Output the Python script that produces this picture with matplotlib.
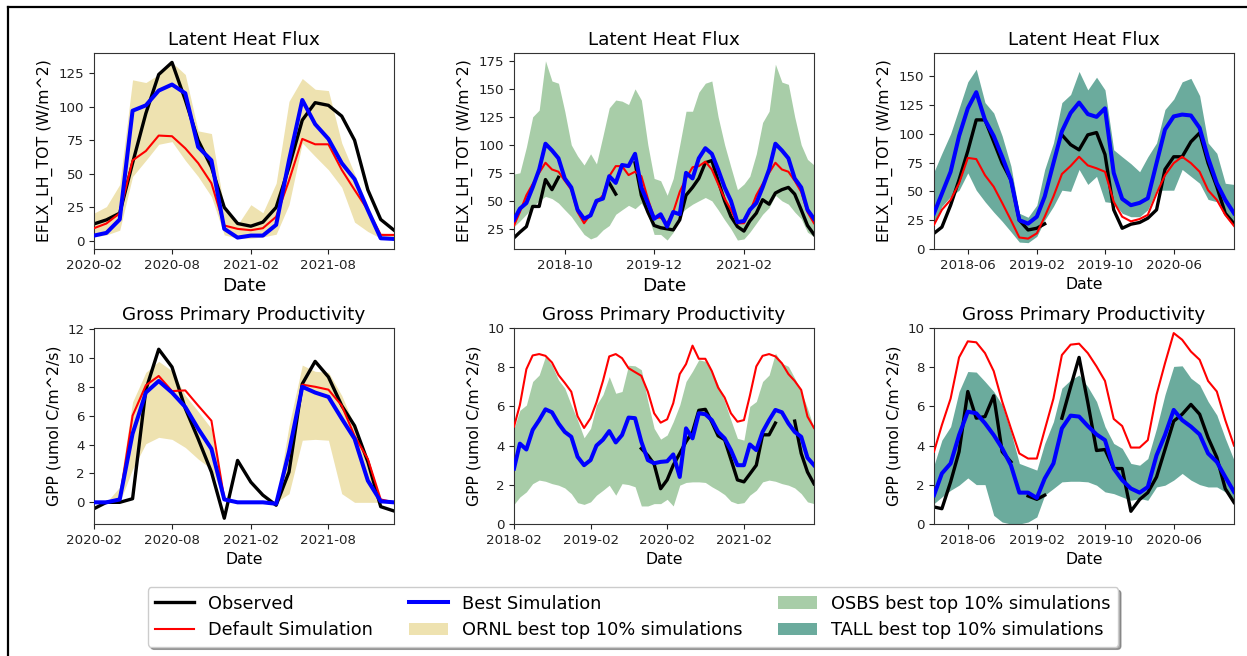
import numpy as np
import pandas as pd
import matplotlib
matplotlib.use("Agg")
import matplotlib.pyplot as plt
from matplotlib.lines import Line2D
from matplotlib.patches import Patch
import matplotlib.dates as mdates

nan = np.nan

# ---- monthly time axes for the three sites ----
dates_ornl = pd.date_range("2020-02-01", periods=24, freq="MS")
dates_osbs = pd.date_range("2018-02-01", periods=48, freq="MS")
dates_tall = pd.date_range("2018-02-01", periods=36, freq="MS")

# ---- ORNL latent heat flux (W/m^2) ----
ornl_lh_obs = [12.7, 15.7, 20.7, 58, 95, 124, 133, 105, 75, 55, 25, 13,
               11, 14, 25, 55, 90, 103, 101, 93, 75, 38, 16, 8]
ornl_lh_def = [9.5, 13, 20.7, 60, 67, 78.5, 78, 69, 58, 43, 11.5, 9,
               8, 9.5, 18, 45, 76, 72, 72, 53, 38, 23, 4.5, 4.5]
ornl_lh_best = [4, 6, 16, 97, 101, 112, 116.5, 110, 70, 60, 9, 2.5,
                4, 4, 12, 60, 105, 87, 76, 58, 46, 23, 2, 1.5]
ornl_lh_upper = [20.7, 25.6, 42, 120, 118, 124, 133, 124, 82, 80, 24, 12,
                 27, 21, 43, 104, 121, 113, 112, 73, 50, 26, 6, 4.5]
ornl_lh_lower = [3, 4.5, 8, 48, 60, 72, 74, 60, 48, 33, 4.5, 2,
                 2, 3, 5, 27, 73, 63, 53, 40, 14, 7, 2, 2]

# ---- OSBS latent heat flux (W/m^2) ----
osbs_lh_obs = [17, 22, 27, 45, 45, 69, 60, 71, nan, nan, nan, nan,
               nan, nan, nan, 66, 56, nan, nan, 84, 55, 40, 28, 26,
               25, 24, 33, 55, 62, 70, 84, 86, 68, 50, 36, 27,
               23, 32, 39, 51, 47, 57, 60, 62, 56, 42, 28, 20]
osbs_lh_def = [28, 40, 55, 65, 75, 84, 78, 76, 68, 60, 40, 30,
               38, 48, 55, 72, 81, 81, 73, 76, 72, 52, 35, 35,
               30, 40, 58, 70, 80, 81, 85, 78, 65, 52, 42, 30,
               30, 40, 55, 65, 75, 84, 78, 76, 68, 58, 40, 30]
osbs_lh_best = [33, 43, 48, 62, 78, 101, 95, 88, 70, 62, 42, 34,
                37, 50, 52, 72, 66, 82, 81, 92, 62, 48, 34, 38,
                27, 40, 38, 75, 70, 88, 97, 92, 78, 62, 50, 31,
                32, 42, 48, 62, 78, 101, 95, 88, 70, 62, 42, 34]
osbs_lh_upper = [74, 75, 98, 125, 131, 175, 157, 155, 130, 100, 90, 82,
                 92, 83, 108, 133, 140, 139, 136, 150, 140, 100, 70, 68,
                 55, 70, 100, 130, 130, 147, 155, 157, 125, 100, 80, 60,
                 65, 72, 92, 120, 130, 172, 156, 154, 125, 100, 87, 82]
osbs_lh_lower = [27, 32, 38, 45, 50, 54, 52, 48, 42, 36, 28, 20,
                 16, 18, 24, 28, 38, 42, 46, 43, 48, 38, 20, 20,
                 15, 22, 38, 43, 47, 50, 53, 50, 42, 33, 25, 15,
                 16, 22, 30, 38, 44, 55, 50, 47, 40, 34, 22, 18]

# ---- TALL latent heat flux (W/m^2) ----
tall_lh_obs = [13.6, 19, 38, 60, 85, 112, 112, 93, 74.5, 60, 25, 16.5,
               18, 21.8, nan, 99, 90.5, 86, 99, 101, 82, 34, 18, 21.5,
               23, 26.7, 34, 69, 80, 80, 93, 100.7, 74.5, 54, 31, 22]
tall_lh_def = [21, 34, 42.6, 57, 79, 78, 64, 54, 40, 25, 10, 9,
               13.6, 28, 45.5, 65, 72, 80, 72.5, 70, 67, 41, 28, 24,
               26, 29.6, 48, 64, 74.5, 80, 74.5, 67, 51, 42.6, 29.6, 20]
tall_lh_best = [31, 48, 67, 98, 122, 136, 112, 98, 80, 60, 25, 22,
                28, 45.5, 74.5, 102, 118, 127, 117, 114.6, 122, 66, 43.5, 38,
                40, 44, 74.5, 103.6, 115, 116.6, 115.8, 105, 79, 57, 42.6, 31]
tall_lh_upper = [67, 83, 100, 122, 145, 156, 127, 118, 98, 72, 31, 27.5,
                 38, 69, 92, 127, 134, 154, 138, 149, 138, 86, 80, 74,
                 67, 80, 92, 121, 130, 145, 148, 133, 92, 83, 57, 56]
tall_lh_lower = [22, 37, 45.5, 51, 66, 51, 41, 32, 24, 15, 6, 5.5,
                 11, 25, 37, 51, 50, 69, 56, 63, 41, 40, 31, 28,
                 28, 34, 51, 51, 51, 69, 63, 57, 43, 41, 31, 24]

# ---- ORNL gross primary productivity (umol C/m^2/s) ----
ornl_gpp_obs = [-0.44, 0, 0, 0.25, 7.8, 10.6, 9.37, 6.5, 4.4, 2.1, -1.1, 2.9,
                1.4, 0.5, -0.2, 2.1, 8.2, 9.76, 8.68, 6.7, 5.3, 2.8, -0.3, -0.6]
ornl_gpp_def = [0, 0, 0.2, 6.0, 8.1, 8.75, 7.7, 7.75, 6.7, 5.65, 0.25, 0,
                0, 0, -0.1, 3.3, 8.15, 8.0, 7.8, 6.7, 4.6, 3.0, 0.2, 0]
ornl_gpp_best = [0, 0, 0.2, 4.75, 7.6, 8.4, 7.6, 6.6, 5.1, 3.7, 0.2, 0,
                 0, 0, -0.1, 3.5, 8.0, 7.6, 7.3, 5.8, 4.4, 1.5, 0.07, 0]
ornl_gpp_upper = [0, 0, 1.06, 6.95, 9.0, 9.76, 9.1, 7.4, 6.3, 5.1, 0.2, 0,
                  0, 0, 0, 5.3, 9.5, 9.07, 9.0, 7.4, 5.3, 2.3, 0.14, 0]
ornl_gpp_lower = [0, 0, 0, 2.3, 4.06, 4.5, 4.36, 3.8, 3.0, 2.3, 0.2, 0,
                  0, 0, 0, 0.6, 4.3, 4.36, 4.3, 0.6, 0, 0, 0, 0]

# ---- OSBS gross primary productivity (umol C/m^2/s) ----
osbs_gpp_obs = [nan] * 20 + [3.85, 3.5, 3.05, 1.8,
                             2.25, 3.0, 3.6, 4.2, 4.7, 5.8, 5.85, 5.2, 4.5, 4.3, 3.3, 2.25,
                             2.15, 2.55, 3.0, 4.55, 4.55, 5.15, nan, nan, 5.25, 3.6, 2.65, 2.05]
osbs_gpp_def = [4.97, 6.07, 7.9, 8.6, 8.67, 8.58, 8.24, 7.6, 7.2, 6.75, 5.5, 4.9,
                5.4, 6.2, 7.3, 8.55, 8.67, 8.46, 7.95, 7.75, 7.56, 6.75, 5.65, 5.17,
                5.34, 6.16, 7.65, 8.16, 9.1, 8.43, 8.43, 7.8, 6.96, 6.45, 5.65, 5.22,
                5.3, 6.53, 8.04, 8.58, 8.67, 8.55, 8.2, 7.65, 7.3, 6.84, 5.48, 4.9]
osbs_gpp_best = [2.83, 4.1, 3.8, 4.8, 5.3, 5.85, 5.7, 5.13, 4.7, 4.45, 3.43, 3.0,
                 3.26, 4.0, 4.3, 4.74, 4.16, 4.54, 5.43, 5.4, 4.2, 3.26, 3.1, 3.17,
                 3.2, 3.55, 2.4, 4.88, 4.37, 5.65, 5.6, 5.3, 4.7, 4.37, 3.77, 3.0,
                 3.0, 4.06, 3.77, 4.7, 5.3, 5.82, 5.7, 5.13, 4.7, 4.45, 3.38, 3.0]
osbs_gpp_upper = [4.88, 5.8, 6.07, 7.27, 7.6, 8.55, 8.1, 7.35, 6.93, 6.07, 5.3, 4.4,
                  4.88, 6.07, 6.6, 7.52, 6.67, 6.76, 8.1, 8.07, 7.87, 6.25, 4.88, 4.33,
                  4.54, 5.22, 6.07, 7.27, 7.8, 8.38, 8.3, 7.8, 7.1, 6.25, 5.3, 4.37,
                  4.28, 6.0, 6.25, 7.27, 7.6, 8.72, 8.2, 8.04, 7.44, 6.76, 5.9, 4.88]
osbs_gpp_lower = [1.0, 1.38, 1.64, 2.06, 2.24, 2.18, 2.06, 1.98, 1.84, 1.55, 1.09, 1.0,
                  1.13, 1.47, 1.72, 1.98, 1.47, 2.06, 2.01, 1.9, 0.92, 0.92, 1.04, 1.04,
                  1.26, 0.92, 1.98, 2.12, 2.15, 2.15, 2.12, 1.9, 1.72, 1.5, 1.16, 1.04,
                  1.09, 1.47, 1.72, 2.15, 2.24, 2.18, 2.06, 1.98, 1.84, 1.55, 1.13, 1.04]

# ---- TALL gross primary productivity (umol C/m^2/s) ----
tall_gpp_obs = [0.87, 0.78, 2.15, 3.69, 6.76, 5.4, 5.48, 6.54, 3.69, 3.17, nan, 1.43,
                1.26, 1.47, nan, 5.4, 7.0, 8.5, 6.2, 3.75, 3.8, 2.83, 2.83, 0.65,
                1.25, 1.6, 2.4, 3.8, 5.25, 5.6, 6.1, 5.6, 4.4, 3.4, 1.8, 1.1]
tall_gpp_def = [3.69, 5.05, 6.4, 8.5, 9.32, 9.27, 8.72, 7.8, 6.25, 4.88, 3.6, 3.34,
                3.34, 4.8, 6.4, 8.62, 9.15, 9.2, 8.72, 8.04, 7.3, 5.36, 5.0, 3.9,
                3.9, 4.28, 6.6, 8.2, 9.74, 9.4, 8.8, 8.38, 7.3, 6.76, 5.3, 4.0]
tall_gpp_best = [1.47, 2.58, 3.09, 4.54, 5.73, 5.65, 5.14, 4.54, 3.86, 3.0, 1.6, 1.6,
                 1.33, 2.32, 3.09, 4.88, 5.53, 5.48, 5.0, 4.57, 4.28, 2.83, 2.24, 1.81,
                 1.6, 1.89, 3.5, 4.54, 5.82, 5.3, 4.97, 4.57, 3.6, 3.17, 2.4, 1.64]
tall_gpp_upper = [3.0, 4.28, 4.97, 6.76, 7.78, 7.75, 7.27, 6.76, 6.07, 4.7, 3.09, 2.92,
                  2.75, 4.11, 5.22, 6.93, 7.35, 7.6, 7.0, 6.25, 4.97, 4.11, 3.86, 3.09,
                  3.0, 3.34, 4.88, 6.6, 8.04, 8.07, 7.44, 7.1, 6.25, 5.56, 4.37, 3.26]
tall_gpp_lower = [1.04, 1.38, 1.72, 1.98, 2.35, 2.01, 2.01, 0.44, 0.1, 0, 0, 0.1,
                  0.36, 1.47, 1.81, 2.15, 2.18, 2.18, 2.15, 1.98, 1.64, 1.55, 1.38, 1.21,
                  1.3, 1.21, 1.89, 1.98, 2.24, 2.58, 2.24, 2.01, 1.89, 1.89, 1.64, 1.21]

# ---- tick labels ----
ornl_xticks = ["2020-02", "2020-08", "2021-02", "2021-08"]
osbs_lh_xticks = ["2018-10", "2019-12", "2021-02"]
osbs_gpp_xticks = ["2018-02", "2019-02", "2020-02", "2021-02"]
tall_xticks = ["2018-06", "2019-02", "2019-10", "2020-06"]

# ---- legend text ----
legend_labels = ["Observed", "Default Simulation", "Best Simulation",
                 "ORNL best top 10% simulations", "OSBS best top 10% simulations",
                 "TALL best top 10% simulations"]

C_ORNL = "#EEE2B0"
C_OSBS = "#A8CDA8"
C_TALL = "#6BAB9D"

W, H = 1247, 656
fig = plt.figure(figsize=(W / 100, H / 100), dpi=100)

LH_LABEL = "EFLX_LH_TOT (W/m^2)"
GPP_LABEL = "GPP (umol C/m^2/s)"


def px_axes(left, top, width=300, height=196):
    return fig.add_axes([left / W, 1 - (top + height) / H, width / W, height / H])


def panel(ax, dates, lower, upper, obs, default, best, band_color,
          ylim, yticks, xticks, title, ylabel, xlabel_size):
    ax.fill_between(dates, lower, upper, color=band_color, linewidth=0, zorder=1)
    ax.plot(dates, obs, color="black", lw=2.4, zorder=2)
    ax.plot(dates, default, color="red", lw=1.5, zorder=3)
    ax.plot(dates, best, color="blue", lw=2.9, zorder=4)
    ax.set_xlim(dates[0], dates[-1])
    ax.set_ylim(*ylim)
    ax.set_yticks(yticks)
    ax.set_xticks(pd.to_datetime([t + "-01" for t in xticks]))
    ax.xaxis.set_major_formatter(mdates.DateFormatter("%Y-%m"))
    ax.tick_params(labelsize=9.6, colors="#222222")
    ax.set_title(title, fontsize=13.2)
    ax.set_ylabel(ylabel, fontsize=11.3)
    ax.set_xlabel("Date", fontsize=xlabel_size)
    for s in ax.spines.values():
        s.set_edgecolor("#333333")


ax1 = px_axes(94, 53)
panel(ax1, dates_ornl, ornl_lh_lower, ornl_lh_upper, ornl_lh_obs, ornl_lh_def,
      ornl_lh_best, C_ORNL, (-6, 140), np.arange(0, 126, 25), ornl_xticks,
      "Latent Heat Flux", LH_LABEL, 13.3)

ax2 = px_axes(514, 53)
panel(ax2, dates_osbs, osbs_lh_lower, osbs_lh_upper, osbs_lh_obs, osbs_lh_def,
      osbs_lh_best, C_OSBS, (7, 182), np.arange(25, 176, 25), osbs_lh_xticks,
      "Latent Heat Flux", LH_LABEL, 13.3)

ax3 = px_axes(934, 53)
panel(ax3, dates_tall, tall_lh_lower, tall_lh_upper, tall_lh_obs, tall_lh_def,
      tall_lh_best, C_TALL, (0, 170), np.arange(0, 151, 25), tall_xticks,
      "Latent Heat Flux", LH_LABEL, 11.3)

ax4 = px_axes(94, 328)
panel(ax4, dates_ornl, ornl_gpp_lower, ornl_gpp_upper, ornl_gpp_obs, ornl_gpp_def,
      ornl_gpp_best, C_ORNL, (-1.5, 12.07), np.arange(0, 13, 2), ornl_xticks,
      "Gross Primary Productivity", GPP_LABEL, 11.3)

ax5 = px_axes(514, 328)
panel(ax5, dates_osbs, osbs_gpp_lower, osbs_gpp_upper, osbs_gpp_obs, osbs_gpp_def,
      osbs_gpp_best, C_OSBS, (0, 10), np.arange(0, 11, 2), osbs_gpp_xticks,
      "Gross Primary Productivity", GPP_LABEL, 11.3)

ax6 = px_axes(934, 328)
panel(ax6, dates_tall, tall_gpp_lower, tall_gpp_upper, tall_gpp_obs, tall_gpp_def,
      tall_gpp_best, C_TALL, (0, 10), np.arange(0, 11, 2), tall_xticks,
      "Gross Primary Productivity", GPP_LABEL, 11.3)

# shared legend below the panels
handles = [
    Line2D([], [], color="black", lw=2.4),
    Line2D([], [], color="red", lw=1.5),
    Line2D([], [], color="blue", lw=2.9),
    Patch(facecolor=C_ORNL, edgecolor="none"),
    Patch(facecolor=C_OSBS, edgecolor="none"),
    Patch(facecolor=C_TALL, edgecolor="none"),
]
fig.legend(handles, legend_labels, loc="center", ncol=3,
           bbox_to_anchor=(633 / W, 1 - 617 / H), fontsize=12.8,
           shadow=True, handlelength=2.2)

# frame lines along the top and left of the figure
fig.add_artist(Line2D([8 / W, 8 / W], [0, 1 - 7 / H], color="black", lw=1.6,
                      transform=fig.transFigure))
fig.add_artist(Line2D([8 / W, 1], [1 - 7 / H, 1 - 7 / H], color="black", lw=1.6,
                      transform=fig.transFigure))

fig.savefig("out.png", dpi=100)
